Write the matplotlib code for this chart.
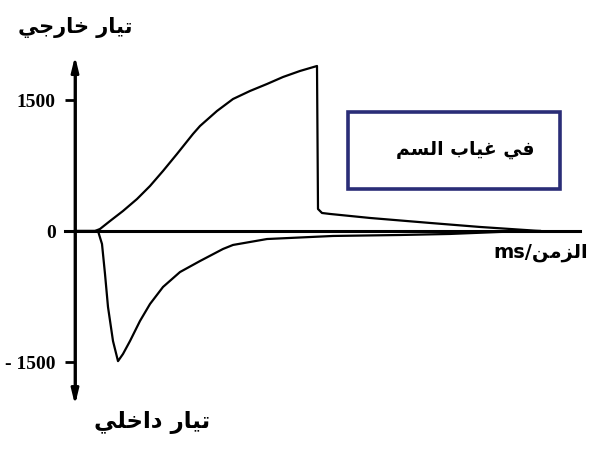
import matplotlib.pyplot as plt
from matplotlib.patches import Rectangle

# time (ms) and current for the outward current (upper trace)
t_out = [0, 0.4, 0.5, 0.7, 0.96, 1.24, 1.5, 1.76, 2.04, 2.36, 2.5, 2.84, 3.16, 3.5,
         3.84, 4.16, 4.5, 4.84, 4.86, 4.94, 5.1, 5.9, 7.1, 8.1, 9.3]
i_out = [0, 0, 23, 114, 229, 366, 515, 687, 882, 1111, 1202, 1374, 1511, 1603,
         1683, 1763, 1832, 1889, 252, 206, 195, 149, 92, 46, 0]

# inward current (lower trace)
t_in = [0, 0.46, 0.54, 0.6, 0.66, 0.76, 0.86, 0.96, 1.1, 1.3, 1.5, 1.76, 2.1, 2.5,
        2.96, 3.16, 3.84, 5.16, 6.5, 7.5, 8.5, 9.3]
i_in = [0, 0, -149, -492, -870, -1260, -1490, -1408, -1260, -1030, -836, -641, -470, -344,
        -206, -160, -92, -57, -46, -34, -11, 0]

y_ticks = [1500, 0, -1500]
y_labels = ['1500', '0', '- 1500']

# Arabic labels written in presentation forms, visual order
lbl_out = '\uFEF2\uFE9F\uFEAD\uFE8E\uFEA7 \uFEAD\uFE8E\uFEF4\uFE97'      # تيار خارجي
lbl_in = '\uFEF2\uFEE0\uFEA7\uFE8D\uFEA9 \uFEAD\uFE8E\uFEF4\uFE97'       # تيار داخلي
lbl_box = '\uFEE2\uFEB4\uFEDF\uFE8D \uFE8F\uFE8E\uFEF4\uFECF \uFEF2\uFED3'  # في غياب السم
lbl_time = 'ms/\uFEE6\uFEE3\uFEB0\uFEDF\uFE8D'                           # الزمن/ms

W, H = 594, 452
fig = plt.figure(figsize=(W / 100, H / 100), dpi=100)
ax = fig.add_axes([0, 0, 1, 1])
ax.set_xlim(-1.5, 10.38)
ax.set_ylim(-2519, 2656)

for s in ['top', 'right']:
    ax.spines[s].set_visible(False)
ax.spines['left'].set_position(('data', 0))
ax.spines['left'].set_bounds(-1900, 1900)
ax.spines['left'].set_linewidth(2)
ax.spines['bottom'].set_position(('data', 0))
ax.spines['bottom'].set_bounds(-0.2, 10.1)
ax.spines['bottom'].set_linewidth(2.2)
ax.set_xticks([])
ax.set_yticks(y_ticks)
ax.set_yticklabels(y_labels, family='Liberation Serif', fontweight='bold', fontsize=14)
ax.tick_params(axis='y', length=7, width=2, pad=7)

# arrow heads of the current axis
ax.annotate('', xy=(0, 2000), xytext=(0, -1990),
            arrowprops=dict(arrowstyle='<|-|>,head_length=0.9,head_width=0.22',
                            lw=2, color='black', shrinkA=0, shrinkB=0))

ax.plot(t_out, i_out, color='black', lw=1.6, solid_joinstyle='round')
ax.plot(t_in, i_in, color='black', lw=1.6, solid_joinstyle='round')

def px(x, y):
    return x / W, 1 - y / H

arab = dict(family=['DejaVu Sans'], fontweight='bold', color='black')
fig.text(*px(75, 27), lbl_out, ha='center', va='center', fontsize=15, **arab)
fig.text(*px(152, 423), lbl_in, ha='center', va='center', fontsize=16.5, **arab)
fig.text(*px(465, 150), lbl_box, ha='center', va='center', fontsize=13.5, **arab)
fig.text(*px(541, 252), lbl_time, ha='center', va='center', fontsize=14, **arab)

x0, y0 = px(348, 190)
fig.patches.append(Rectangle((x0, y0), (560 - 348) / W, (190 - 113) / H,
                             transform=fig.transFigure, fill=False,
                             edgecolor='#2a2d77', lw=2.6))

fig.savefig('out.png', dpi=100)
